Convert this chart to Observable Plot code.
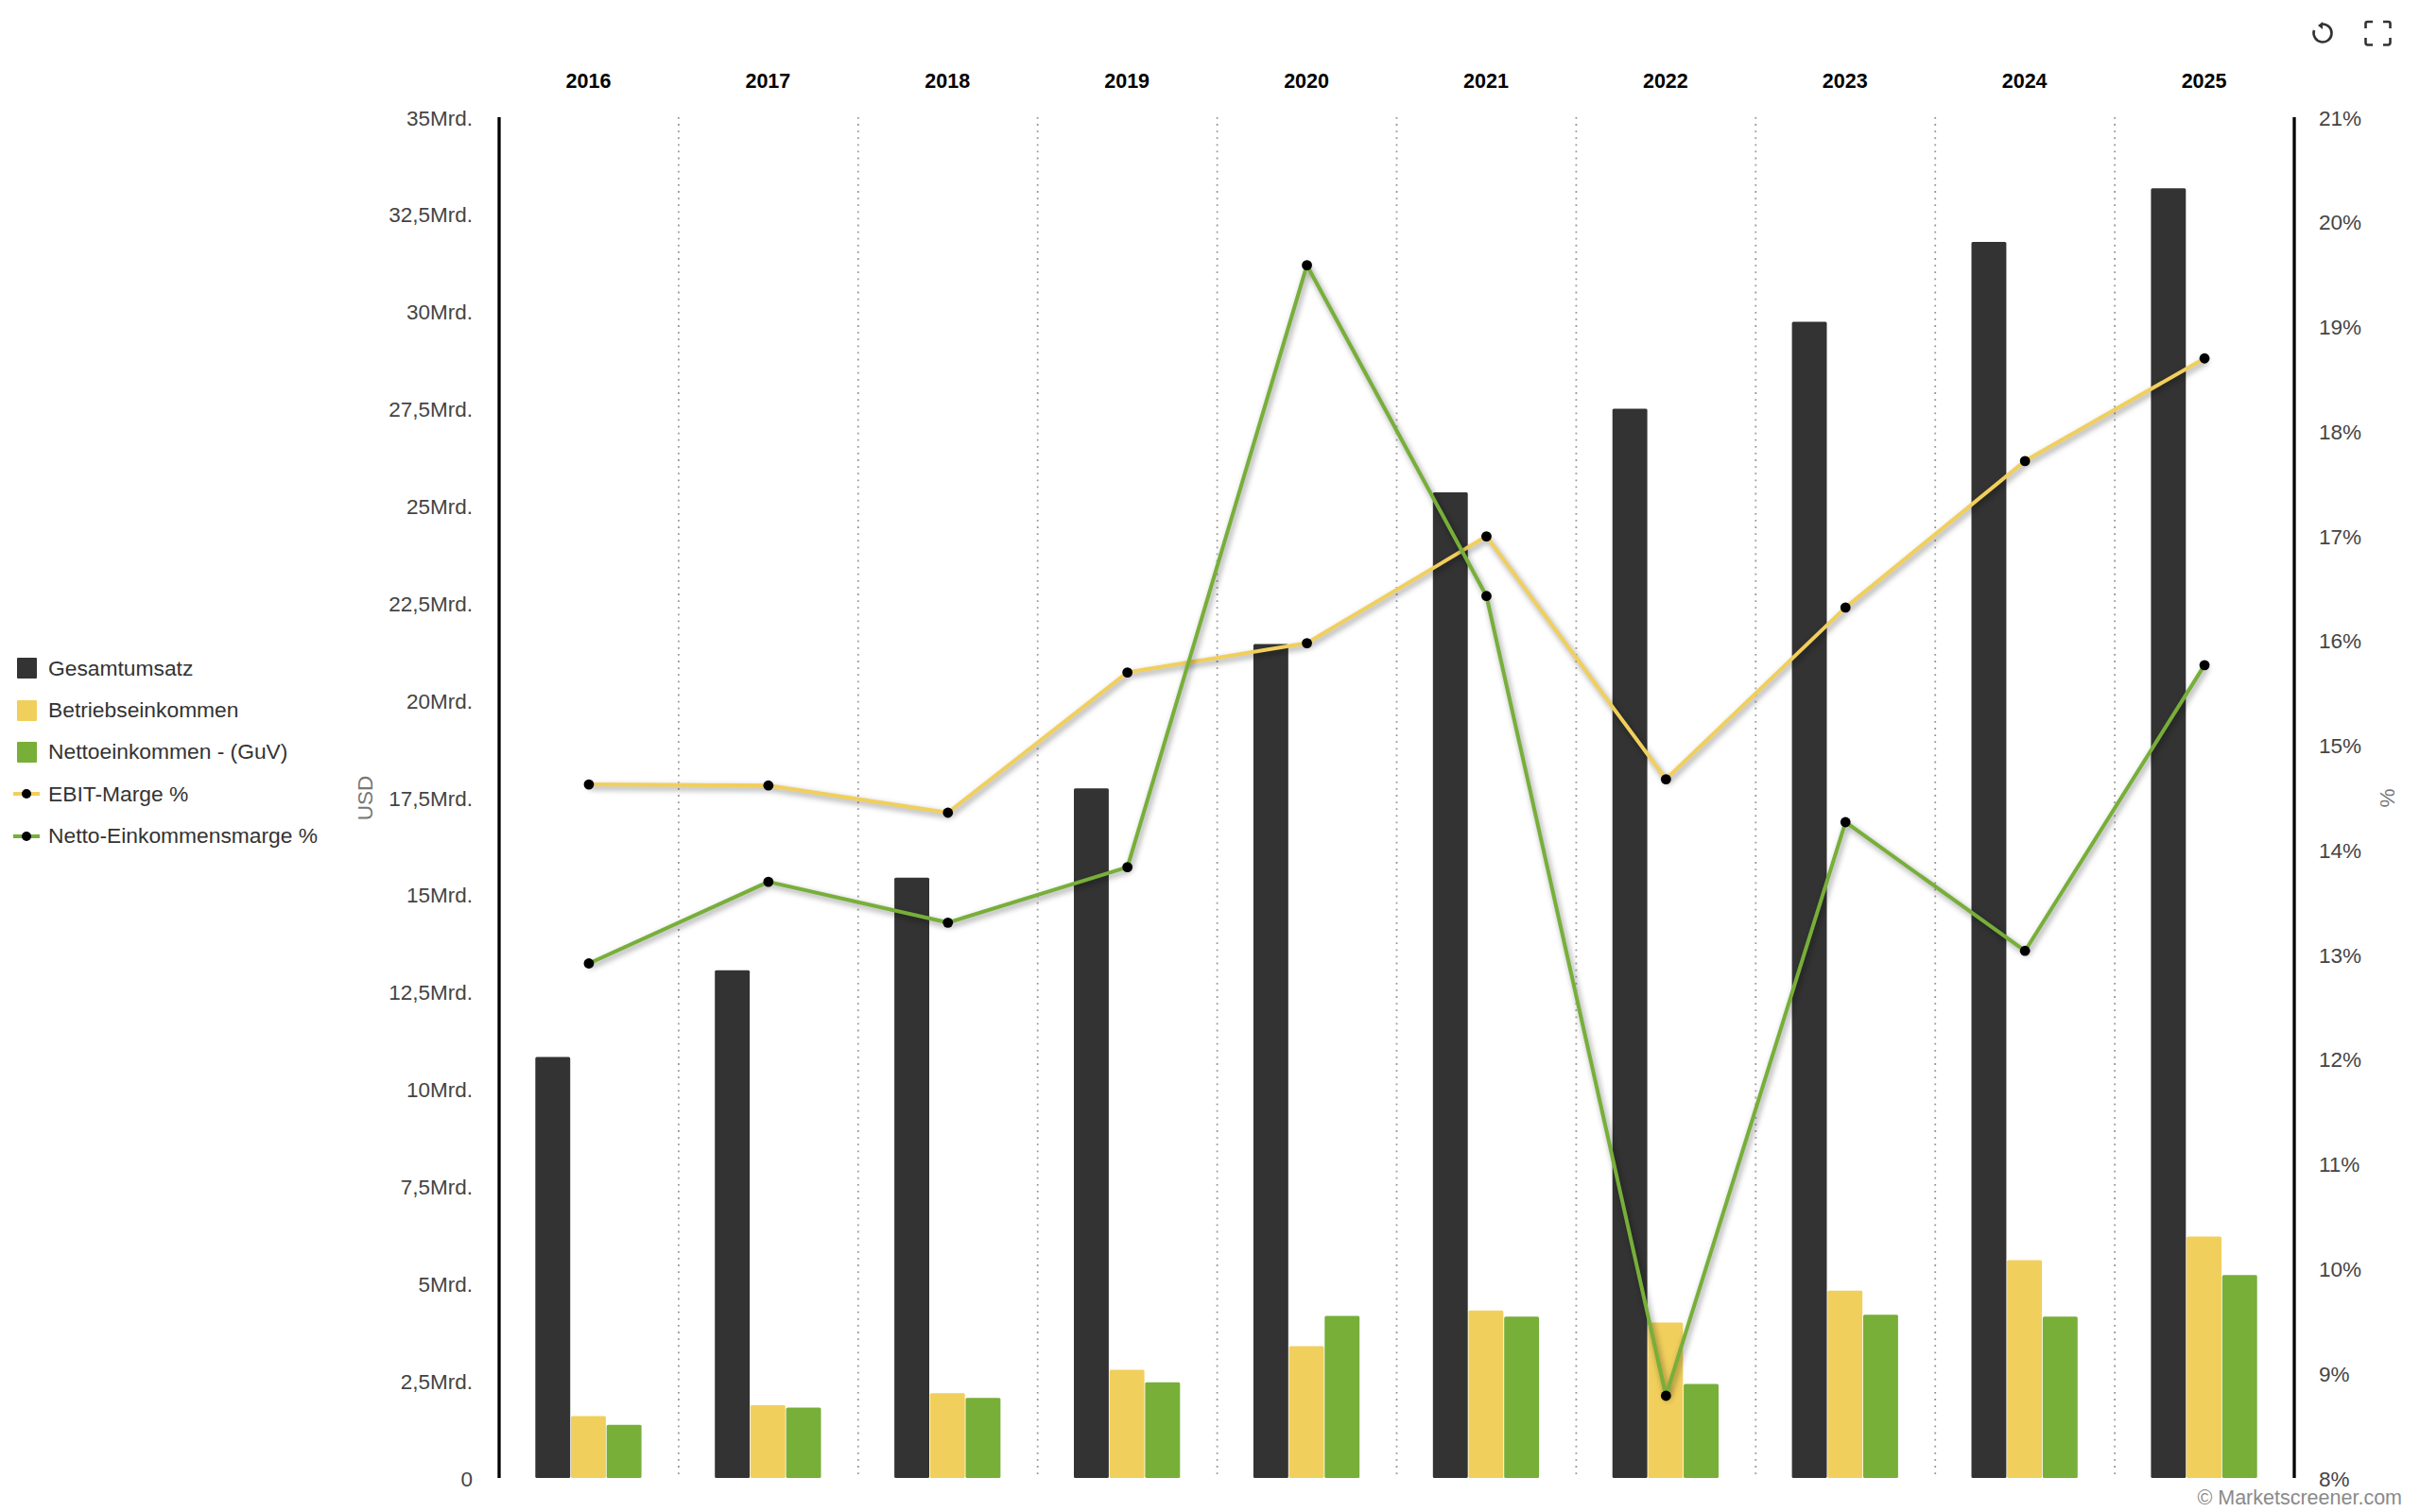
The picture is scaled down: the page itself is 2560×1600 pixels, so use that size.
<!DOCTYPE html>
<html lang="de">
<head>
<meta charset="utf-8">
<title>Marketscreener</title>
<script src="https://cdn.jsdelivr.net/npm/d3@7"></script>
<script src="https://cdn.jsdelivr.net/npm/@observablehq/plot@0.6"></script>
<style>
  html, body { margin: 0; background: #fff; width: 2560px; height: 1600px; overflow: hidden; font-family: "Liberation Sans", Arial, sans-serif; }
  #chart { position: absolute; left: 0; top: 0; }
  #chart svg { display: block; }
  .shadowed { filter: drop-shadow(2px 3px 3px rgba(0,0,0,.42)); }
  #legend { position: absolute; left: 14px; top: 685px; }
  .row { height: 44.4px; display: flex; align-items: center; font-size: 22.8px; color: #333; white-space: nowrap; }
  .row svg { width: 28px; height: 24px; margin-right: 9px; flex: none; }
  #credit { position: absolute; right: 19px; top: 1574px; font-size: 21.5px; line-height: 22px; color: #8a8a8a; }
  #tools { position: absolute; left: 2440px; top: 14px; }
</style>
</head>
<body>
<div id="chart"></div>
<div id="legend"></div>
<div id="credit">© Marketscreener.com</div>
<svg id="tools" width="100" height="42" viewBox="0 0 100 42" fill="none" stroke="#333" stroke-width="2.6">
  <path d="M17 11.5 A9.5 9.5 0 1 1 8 18" />
  <path d="M12 13 L17 9 L17 17 Z" fill="#333" stroke="none"/>
  <path d="M62.5 16 V11 Q62.5 9 64.5 9 H70 M81 9 H86.5 Q88.5 9 88.5 11 V16 M88.5 26 V31 Q88.5 33 86.5 33.5 H81 M70 33.5 H64.5 Q62.5 33.5 62.5 31 V26" />
</svg>
<script>
const years = [2016, 2017, 2018, 2019, 2020, 2021, 2022, 2023, 2024, 2025];
const gesamtumsatz = [10.83, 13.06, 15.44, 17.74, 21.45, 25.35, 27.5, 29.74, 31.79, 33.17];
const betriebseinkommen = [1.59, 1.87, 2.18, 2.78, 3.39, 4.31, 4.0, 4.82, 5.6, 6.21];
const nettoeinkommen = [1.37, 1.81, 2.06, 2.46, 4.17, 4.15, 2.42, 4.2, 4.15, 5.22];
const ebitMarge = [14.63, 14.62, 14.36, 15.70, 15.98, 17.0, 14.68, 16.32, 17.72, 18.7];
const nettoMarge = [12.92, 13.7, 13.31, 13.84, 19.59, 16.43, 8.79, 14.27, 13.04, 15.77];

const leftTicks = [0, 2.5, 5, 7.5, 10, 12.5, 15, 17.5, 20, 22.5, 25, 27.5, 30, 32.5, 35];
const rightTicks = [8, 9, 10, 11, 12, 13, 14, 15, 16, 17, 18, 19, 20, 21];

const barSeries = ["Gesamtumsatz", "Betriebseinkommen", "Nettoeinkommen - (GuV)"];
const lineSeries = ["EBIT-Marge %", "Netto-Einkommensmarge %"];
const colors = { dark: "#333333", yellow: "#f1cf5c", green: "#77af39" };
const barColors = [colors.dark, colors.yellow, colors.green];
const lineColors = [colors.yellow, colors.green];

const slot = 0.1985;
const leftMax = 35, rightMin = 8, rightMax = 21;
const toLeft = p => (p - rightMin) / (rightMax - rightMin) * leftMax;
const toRight = v => v / leftMax * (rightMax - rightMin) + rightMin;

const bars = [gesamtumsatz, betriebseinkommen, nettoeinkommen].flatMap((vals, s) =>
  vals.map((v, i) => ({
    x1: years[i] + (s - 1.5) * slot,
    x2: years[i] + (s - 0.5) * slot,
    value: v,
    series: barSeries[s]
  })));
const lineRows = [ebitMarge, nettoMarge].map((vals, s) =>
  vals.map((p, i) => ({ year: years[i], y: toLeft(p), series: lineSeries[s] })));

const fmtLeft = v => v === 0 ? "0" : `${String(v).replace(".", ",")}Mrd.`;
const font = 22.5;

const plot = Plot.plot({
  width: 2560, height: 1600,
  marginTop: 124, marginBottom: 36, marginLeft: 527.5, marginRight: 133.5,
  style: { fontFamily: '"Liberation Sans", Arial, sans-serif', background: "#fff" },
  x: { domain: [years[0] - 0.5, years[years.length - 1] + 0.5] },
  y: { domain: [0, leftMax] },
  color: { domain: barSeries, range: barColors },
  marks: [
    Plot.ruleX(years.slice(0, -1).map(y => y + 0.5), { stroke: "#999", strokeWidth: 1.8, strokeDasharray: "1.8 5.3" }),
    Plot.rectY(bars, { x1: "x1", x2: "x2", y1: 0, y2: "value", fill: "series", insetLeft: 0.4, insetRight: 0.4, rx: 1.5 }),
    Plot.ruleX([years[0] - 0.5, years[years.length - 1] + 0.5], { stroke: "#000", strokeWidth: 3.3 }),
    ...lineRows.map((rows, s) => Plot.line(rows, { x: "year", y: "y", stroke: lineColors[s], strokeWidth: 4, className: "shadowed" })),
    ...lineRows.map(rows => Plot.dot(rows, { x: "year", y: "y", r: 5.4, fill: "#000" })),
    Plot.axisX({ anchor: "top", ticks: years, tickFormat: d => String(d), tickSize: 0, tickPadding: 32, dx: -0.5, fontSize: 21.5, fontWeight: "bold", color: "#000", label: null }),
    Plot.axisY({ anchor: "left", ticks: leftTicks, tickFormat: fmtLeft, tickSize: 0, tickPadding: 28, dy: 0.8, fontSize: font, color: "#444", label: null }),
    Plot.axisY({ anchor: "right", ticks: rightTicks.map(toLeft), tickFormat: v => `${Math.round(toRight(v))}%`, tickSize: 0, tickPadding: 26, dy: 0.8, fontSize: font, color: "#444", label: null }),
    Plot.axisY({ anchor: "left", ticks: [], label: "USD", labelAnchor: "center", labelArrow: "none", labelOffset: 150, fontSize: font, color: "#777" }),
    Plot.axisY({ anchor: "right", ticks: [], label: "%", labelAnchor: "center", labelArrow: "none", labelOffset: 106, fontSize: font, color: "#777" })
  ]
});
document.getElementById("chart").append(plot);

const legend = document.getElementById("legend");
barSeries.forEach((name, i) => {
  legend.insertAdjacentHTML("beforeend",
    `<div class="row"><svg viewBox="0 0 28 24"><rect x="4" y="1" width="21" height="22" rx="1" fill="${barColors[i]}"/></svg>${name}</div>`);
});
lineSeries.forEach((name, i) => {
  legend.insertAdjacentHTML("beforeend",
    `<div class="row"><svg viewBox="0 0 28 24"><line x1="0" x2="28" y1="12" y2="12" stroke="${lineColors[i]}" stroke-width="4"/><circle cx="14" cy="12" r="5" fill="#000"/></svg>${name}</div>`);
});
</script>
</body>
</html>
